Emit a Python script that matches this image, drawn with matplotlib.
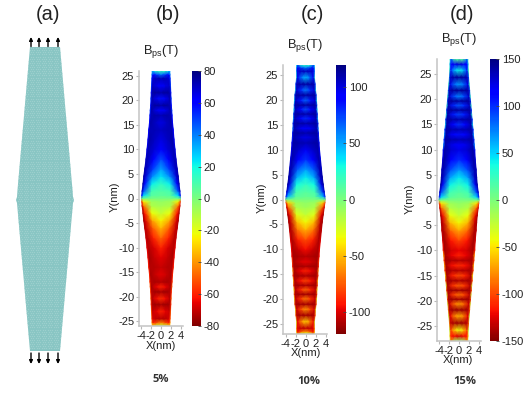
import numpy as np
import matplotlib
matplotlib.use('Agg')
import matplotlib.pyplot as plt
from matplotlib.patches import Polygon

W, H = 532, 393
plt.rcParams['font.family'] = ['Liberation Sans', 'DejaVu Sans']
plt.rcParams['axes.unicode_minus'] = False
plt.rcParams['font.size'] = 8

# across-width stations, as a fraction of the local half width
U = [0, 0.5, 0.9, 1.0]

Y_B = [0, 0.6, 1.5, 3, 4.5, 6, 8, 10, 12, 14, 15.5, 17, 18, 19, 20.4, 21.6, 23, 24.5, 25.3, 26]
HW_B = [3.9, 3.85, 3.78, 3.6, 3.45, 3.25, 3.0, 2.8, 2.6, 2.45, 2.3, 2.2, 2.15, 2.05, 2.0, 1.95, 1.9, 1.8, 1.78, 1.75]
CENTER_B = [0, 5, 8, 14, 24, 34, 48, 60, 66, 70, 66, 72, 60, 74, 58, 74, 60, 72, 42, 12]
MID_B = [0, 7, 10, 22, 38, 50, 60, 68, 70, 72, 70, 74, 66, 76, 64, 76, 66, 72, 52, 15]
OUTER_B = [0, 25, 45, 62, 68, 70, 72, 72, 74, 72, 74, 72, 74, 72, 72, 74, 70, 68, 60, 25]
EDGE_B = [0, 55, 70, 74, 74, 72, 70, 66, 64, 60, 60, 58, 50, 60, 50, 60, 48, 55, 42, 30]

Y_C = [0, 0.6, 1.5, 3, 4.5, 6, 8, 10, 11.4, 12.5, 13.4, 14.3, 15.3, 16.3, 17.2, 18.1, 19, 19.9, 21, 22, 23.2, 24.5, 25.8, 26.5, 27]
HW_C = [3.95, 3.88, 3.75, 3.55, 3.35, 3.2, 3.0, 2.8, 2.7, 2.62, 2.56, 2.5, 2.47, 2.4, 2.33, 2.28, 2.24, 2.2, 2.1, 2.0, 1.9, 1.78, 1.75, 1.75, 1.75]
CENTER_C = [0, 6, 10, 20, 34, 52, 78, 95, 108, 98, 110, 90, 110, 80, 110, 72, 112, 66, 112, 60, 112, 45, 106, 60, 22]
MID_C = [0, 10, 15, 30, 50, 68, 90, 104, 110, 104, 112, 98, 112, 94, 112, 90, 112, 86, 112, 80, 112, 64, 106, 75, 25]
OUTER_C = [0, 45, 70, 98, 106, 108, 110, 110, 112, 110, 112, 110, 112, 108, 112, 106, 112, 104, 112, 102, 110, 95, 100, 95, 70]
EDGE_C = [0, 80, 104, 112, 112, 108, 100, 96, 96, 80, 96, 60, 96, 45, 96, 35, 96, 30, 96, 28, 90, 22, 70, 55, 30]

Y_D = [0, 0.6, 1.5, 3, 4.5, 6, 8, 10, 11, 12, 13, 14, 15, 16, 17, 17.9, 18.8, 19.7, 20.6, 21.8, 23, 24.4, 25.8, 27, 28]
HW_D = [4, 3.95, 3.85, 3.65, 3.53, 3.43, 3.25, 3.15, 3.05, 2.97, 2.88, 2.8, 2.7, 2.62, 2.53, 2.45, 2.38, 2.3, 2.22, 2.12, 2.02, 1.9, 1.82, 1.78, 1.75]
CENTER_D = [0, 8, 14, 26, 44, 68, 100, 122, 112, 136, 108, 136, 98, 138, 92, 140, 86, 140, 72, 142, 66, 142, 40, 128, 12]
MID_D = [0, 14, 20, 40, 65, 90, 115, 128, 122, 138, 118, 138, 112, 140, 106, 142, 102, 142, 92, 142, 84, 140, 58, 120, 16]
OUTER_D = [0, 50, 85, 120, 132, 136, 140, 140, 138, 140, 138, 140, 138, 140, 136, 140, 134, 140, 130, 138, 122, 134, 100, 115, 80]
EDGE_D = [0, 100, 130, 140, 140, 135, 128, 115, 70, 115, 60, 115, 40, 115, 30, 115, 28, 115, 26, 105, 22, 95, 22, 65, 25]

X_TICKS = [-4, -2, 0, 2, 4]
Y_TICKS = [-25, -20, -15, -10, -5, 0, 5, 10, 15, 20, 25]
CB_TICKS_B = [-80, -60, -40, -20, 0, 20, 40, 60, 80]
CB_TICKS_C = [-100, -50, 0, 50, 100]
CB_TICKS_D = [-150, -100, -50, 0, 50, 100, 150]

# outline of the ribbon in panel (a), pixel rows and half widths
RIBBON_Y = [47, 190, 197, 200, 203, 351]
RIBBON_HW = [15, 27.5, 28, 29, 28, 15]
ARROW_X = [31, 39, 48, 58]


def px_axes(fig, left, top, right, bottom):
    return fig.add_axes([left / W, 1 - bottom / H, (right - left) / W, (bottom - top) / H])


def px_text(fig, x, y, s, **kw):
    kw.setdefault('ha', 'center')
    kw.setdefault('va', 'center')
    return fig.text(x / W, 1 - y / H, s, **kw)


def draw_map(fig, box, cbox, y_rows, hw, center, mid, outer, edge, vmax, xlim, ylim, cb_ticks):
    ax = px_axes(fig, *box)
    y_rows = np.array(y_rows)
    hw = np.array(hw)
    vals = np.column_stack([center, mid, outer, edge]).astype(float)
    u = np.array(U)

    # mirror across the width, then across y = 0 with opposite sign
    u_full = np.concatenate([-u[:0:-1], u])
    vals_w = np.hstack([vals[:, :0:-1], vals])
    yy = np.concatenate([-y_rows[:0:-1], y_rows])
    hh = np.concatenate([hw[:0:-1], hw])
    zz = np.vstack([-vals_w[:0:-1], vals_w])
    XX = np.outer(hh, u_full)
    YY = np.tile(yy[:, None], (1, len(u_full)))

    mesh = ax.pcolormesh(XX, YY, zz, shading='gouraud', cmap='jet_r', vmin=-vmax, vmax=vmax)
    ax.set_xlim(*xlim)
    ax.set_ylim(*ylim)
    ax.set_xticks(X_TICKS)
    ax.set_yticks(Y_TICKS)
    ax.tick_params(length=2, width=0.8, color='#b8b8b8', pad=1.5, labelsize=8, labelcolor='#222222')
    ax.spines['top'].set_visible(False)
    ax.spines['right'].set_visible(False)
    ax.spines['left'].set_color('#c4c4c4')
    ax.spines['bottom'].set_color('#c4c4c4')
    ax.spines['left'].set_linewidth(1.1)
    ax.spines['bottom'].set_linewidth(1.1)

    cax = px_axes(fig, *cbox)
    cb = fig.colorbar(mesh, cax=cax)
    cb.set_ticks(cb_ticks)
    cb.outline.set_visible(False)
    cax.tick_params(direction='in', length=2, width=0.6, color='#444444', pad=2, labelsize=8, labelcolor='#222222')
    return ax


fig = plt.figure(figsize=(W / 100, H / 100), dpi=100, facecolor='white')

# panel (a): drawn straight in pixel space
bg = fig.add_axes([0, 0, 1, 1])
bg.set_xlim(0, W)
bg.set_ylim(H, 0)
bg.axis('off')
cx = 45
left_side = [(cx - h, y) for h, y in zip(RIBBON_HW, RIBBON_Y)]
right_side = [(cx + h, y) for h, y in zip(RIBBON_HW, RIBBON_Y)]
ribbon = Polygon(left_side + right_side[::-1], closed=True, facecolor='#88c5c3', edgecolor='none')
bg.add_patch(ribbon)

# atom lattice, just gives the mottled look of the ribbon
gx, gy = np.meshgrid(np.arange(14, 78, 2.4), np.arange(46, 353, 2.1))
gx[::2] += 1.2
atoms = bg.scatter(gx.ravel(), gy.ravel(), s=1.0, color='#9ccfcd', linewidths=0)
atoms.set_clip_path(ribbon)

for x in ARROW_X:
    bg.annotate('', xy=(x, 37), xytext=(x, 46.5),
                arrowprops=dict(arrowstyle='-|>', color='black', lw=1, mutation_scale=5, shrinkA=0, shrinkB=0))
    bg.annotate('', xy=(x, 364), xytext=(x, 353),
                arrowprops=dict(arrowstyle='-|>', color='black', lw=1, mutation_scale=5, shrinkA=0, shrinkB=0))

draw_map(fig, (139, 71, 183, 326), (192, 71, 201, 326), Y_B, HW_B, CENTER_B, MID_B, OUTER_B, EDGE_B,
         80, (-4.4, 4.4), (-26, 26), CB_TICKS_B)
draw_map(fig, (283, 65, 327, 334), (336, 65, 346, 334), Y_C, HW_C, CENTER_C, MID_C, OUTER_C, EDGE_C,
         120, (-4.5, 4.3), (-27, 27), CB_TICKS_C)
draw_map(fig, (437, 59, 481, 341), (490, 59, 499, 341), Y_D, HW_D, CENTER_D, MID_D, OUTER_D, EDGE_D,
         150, (-4.4, 4.4), (-28, 28), CB_TICKS_D)

for x, s in [(48, '(a)'), (168, '(b)'), (312, '(c)'), (462, '(d)')]:
    px_text(fig, x, 15, s, fontsize=14.5, color='#222222')

title = r'$\mathregular{B_{ps}}$(T)'
for x, y in [(161, 52), (305, 46), (459, 40)]:
    px_text(fig, x, y, title, fontsize=9.3, color='#222222')

for x, y in [(115, 197), (262, 198), (410, 199)]:
    px_text(fig, x, y, 'Y(nm)', rotation=90, fontsize=8, color='#222222')
for x, y in [(161, 346), (306, 353), (458, 360)]:
    px_text(fig, x, y, 'X(nm)', fontsize=8, color='#222222')

for x, y, s in [(161, 380, '5%'), (309, 381, '10%'), (465, 382, '15%')]:
    px_text(fig, x, y, s, fontsize=8, fontweight='bold', family=['Open Sans', 'DejaVu Sans'], color='#333333')

fig.savefig('out.png', dpi=100)
